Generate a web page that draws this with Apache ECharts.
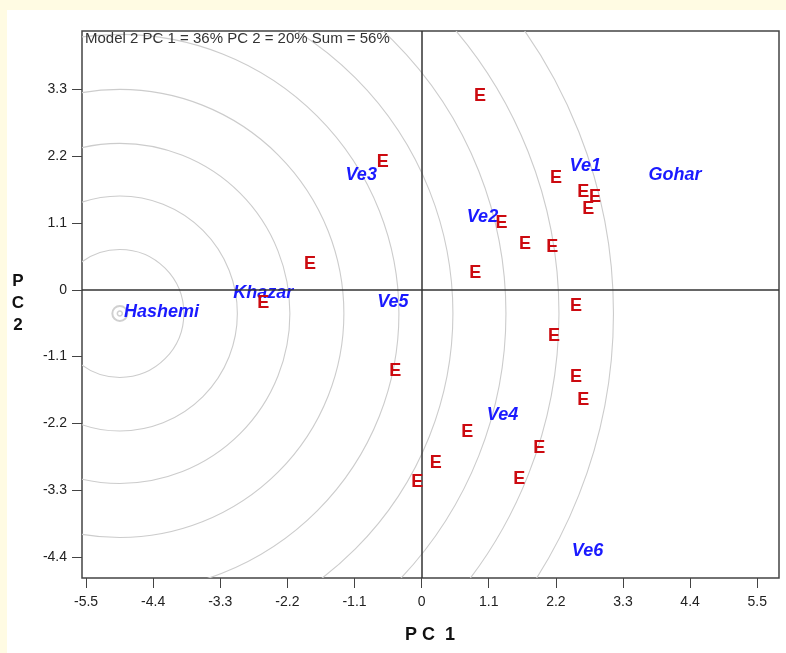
<!DOCTYPE html>
<html><head><meta charset="utf-8">
<script src="https://cdn.jsdelivr.net/npm/echarts@6/dist/echarts.min.js"></script>
<style>
html,body{margin:0;padding:0;background:#fffbe3;width:786px;height:653px;overflow:hidden;}
#c{position:absolute;left:7px;top:10px;width:779px;height:643px;background:#ffffff;}
</style>
</head><body><div id="c"></div>
<script>
// Tick values
const xTicks = [-5.5, -4.4, -3.3, -2.2, -1.1, 0, 1.1, 2.2, 3.3, 4.4, 5.5];
const yTicks = [-4.4, -3.3, -2.2, -1.1, 0, 1.1, 2.2, 3.3];

// Environment points (E)
const envX = [0.956, -0.639, 2.202, 2.649, 2.841, 2.731, 1.311, 1.693, 2.141, -1.831, 0.879,
              -2.597, 2.530, 2.169, -0.433, 2.530, 2.649, 0.748, 1.928, 0.230, 1.600, -0.072];
const envY = [3.185, 2.107, 1.850, 1.613, 1.521, 1.339, 1.102, 0.746, 0.697, 0.422, 0.269,
              -0.216, -0.262, -0.764, -1.336, -1.445, -1.819, -2.346, -2.614, -2.852, -3.120, -3.165];

// Genotype labels
const genoNames = ['Hashemi', 'Khazar', 'Ve3', 'Ve2', 'Ve1', 'Gohar', 'Ve5', 'Ve4', 'Ve6'];
const genoX = [-4.262, -2.597, -0.990, 0.997, 2.682, 4.152, -0.470, 1.325, 2.718];
const genoY = [-0.364, -0.061, 1.888, 1.191, 2.041, 1.888, -0.199, -2.066, -4.301];

// Concentric circles
const ringCenter = [-4.946, -0.390];
const ringRadii = [1.049, 1.926, 2.787, 3.672, 4.574, 5.459, 6.328, 7.197, 8.090];

const FONT = "'Liberation Sans', Arial, Helvetica, sans-serif";
const fmt = v => (Math.abs(v) < 1e-9 ? '0' : v.toFixed(1));

const chart = echarts.init(document.getElementById('c'), null, {renderer: 'canvas'});

const option = {
  animation: false,
  backgroundColor: '#ffffff',
  grid: {
    left: 75, top: 21, right: 7, bottom: 75,
    show: true, borderColor: '#444444', borderWidth: 1.5, backgroundColor: 'transparent'
  },
  xAxis: {
    type: 'value', min: -5.566, max: 5.857,
    axisLine: {show: false, onZero: false},
    splitLine: {show: false},
    axisTick: {show: true, inside: false, length: 10, customValues: xTicks,
               lineStyle: {color: '#444444', width: 1}},
    axisLabel: {show: true, customValues: xTicks, formatter: fmt, margin: 17,
                color: '#222222', fontSize: 14, fontFamily: FONT}
  },
  yAxis: {
    type: 'value', min: -4.75, max: 4.265,
    axisLine: {show: false, onZero: false},
    splitLine: {show: false},
    axisTick: {show: true, inside: false, length: 10, customValues: yTicks,
               lineStyle: {color: '#444444', width: 1}},
    axisLabel: {show: true, customValues: yTicks, formatter: fmt, margin: 15,
                color: '#222222', fontSize: 14, fontFamily: FONT}
  },
  graphic: [
    {type: 'text', left: 78, top: 21, z: 100,
     style: {text: 'Model 2 PC 1 = 36% PC 2 = 20% Sum = 56%', fill: '#333333',
             font: '15px ' + FONT}},
    {type: 'text', x: 11, y: 293, z: 100,
     style: {text: 'P\nC\n2', fill: '#111111', font: 'bold 17px ' + FONT,
             align: 'center', verticalAlign: 'middle', lineHeight: 22}},
    {type: 'text', x: 423, y: 625, z: 100,
     style: {text: 'P C  1', fill: '#111111', font: 'bold 18px ' + FONT,
             align: 'center', verticalAlign: 'middle'}}
  ],
  series: [
    {
      type: 'custom',
      clip: true,
      silent: true,
      z: 1,
      data: ringRadii.map(r => [ringCenter[0], ringCenter[1], r]),
      encode: {x: 0, y: 1},
      renderItem: function (params, api) {
        const c = api.coord([api.value(0), api.value(1)]);
        const r = api.size([api.value(2), 0])[0];
        return {
          type: 'circle',
          shape: {cx: c[0], cy: c[1], r: r},
          style: {fill: 'none', stroke: '#cccccc', lineWidth: 1.1}
        };
      }
    },
    {
      type: 'scatter',
      z: 2,
      silent: true,
      symbol: 'circle',
      symbolSize: 15,
      itemStyle: {color: 'rgba(0,0,0,0)', borderColor: '#d0d0d0', borderWidth: 2, opacity: 1},
      data: [ringCenter],
      markLine: {
        silent: true,
        symbol: ['none', 'none'],
        label: {show: false},
        lineStyle: {color: '#333333', width: 1.5, type: 'solid', opacity: 1},
        data: [{xAxis: 0}, {yAxis: 0}]
      }
    },
    {
      type: 'scatter',
      z: 3,
      silent: true,
      symbol: 'circle',
      symbolSize: 5,
      itemStyle: {color: 'rgba(0,0,0,0)', borderColor: '#d0d0d0', borderWidth: 1.5, opacity: 1},
      data: [ringCenter]
    },
    {
      type: 'scatter',
      z: 4,
      silent: true,
      symbolSize: 1,
      itemStyle: {color: 'rgba(0,0,0,0)', opacity: 1},
      data: genoNames.map((n, i) => ({name: n, value: [genoX[i], genoY[i]]})),
      label: {show: true, position: 'inside', formatter: p => p.name, opacity: 1,
              color: '#1a1aff', fontSize: 18, fontWeight: 'bold', fontStyle: 'italic',
              fontFamily: FONT}
    },
    {
      type: 'scatter',
      z: 5,
      silent: true,
      symbolSize: 1,
      itemStyle: {color: 'rgba(0,0,0,0)', opacity: 1},
      data: envX.map((x, i) => [x, envY[i]]),
      label: {show: true, position: 'inside', formatter: 'E', opacity: 1,
              color: '#cc0a10', fontSize: 18, fontWeight: 'bold', fontFamily: FONT}
    }
  ]
};
chart.setOption(option);
</script>
</body></html>
